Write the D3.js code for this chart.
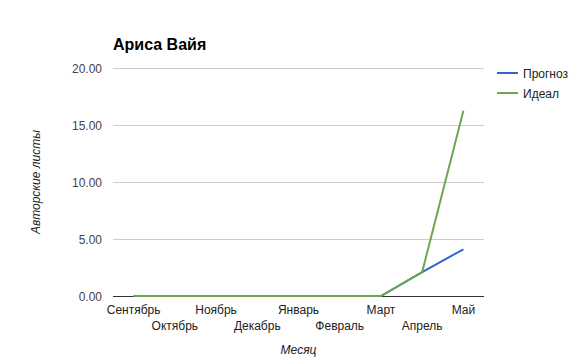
<!DOCTYPE html>
<html>
<head>
<meta charset="utf-8">
<script src="https://cdn.jsdelivr.net/npm/d3@7"></script>
<style>
  body { margin: 0; background: #fff; }
  text { font-family: "Liberation Sans", Arial, sans-serif; }
</style>
</head>
<body>
<div id="chart"></div>
<script>
// data
let months = ['Сентябрь', 'Октябрь', 'Ноябрь', 'Декабрь', 'Январь', 'Февраль', 'Март', 'Апрель', 'Май'];
let prognoz = [0, 0, 0, 0, 0, 0, 0, 2.1, 4.1];
let ideal = [0, 0, 0, 0, 0, 0, 0, 2.1, 16.25];
let yTicks = [0, 5, 10, 15, 20];
let seriesNames = ['Прогноз', 'Идеал'];
let colors = ['#3366cc', '#6aa84f'];

let svgWidth = 577;
let svgHeight = 359;
let margin = { top: 68, right: 93, bottom: 63, left: 113 };
let width = svgWidth - margin.left - margin.right;
let height = svgHeight - margin.top - margin.bottom;

let svg = d3.select('#chart')
            .append('svg')
                .attr('width', svgWidth)
                .attr('height', svgHeight);

let g = svg.append('g')
            .attr('transform', `translate(${margin.left},${margin.top})`);

let x = d3.scalePoint()
            .domain(months)
            .range([0, width])
            .padding(0.5);

let y = d3.scaleLinear()
            .domain([0, 20])
            .range([height, 0]);

// gridlines
g.selectAll('.grid')
    .data(yTicks.filter(d => d > 0))
    .enter()
        .append('line')
        .attr('x1', 0)
        .attr('x2', width)
        .attr('y1', d => y(d) + 0.5)
        .attr('y2', d => y(d) + 0.5)
        .attr('stroke', '#cccccc');

// baseline (under the lines)
g.append('line')
    .attr('x1', 0)
    .attr('x2', width)
    .attr('y1', height + 0.5)
    .attr('y2', height + 0.5)
    .attr('stroke', '#333');

// y tick labels
g.selectAll('.ylab')
    .data(yTicks)
    .enter()
        .append('text')
        .attr('x', -11)
        .attr('y', d => y(d) + 4.5)
        .attr('text-anchor', 'end')
        .attr('font-size', 12)
        .attr('fill', '#444')
        .text(d => d.toFixed(2));

// x labels in two rows
g.selectAll('.xlab')
    .data(months)
    .enter()
        .append('text')
        .attr('x', d => x(d))
        .attr('y', (d, i) => height + (i % 2 ? 34 : 18))
        .attr('text-anchor', 'middle')
        .attr('font-size', 12)
        .attr('fill', '#222')
        .text(d => d);

let line = d3.line()
            .x((d, i) => x(months[i]))
            .y(d => y(d));

[prognoz, ideal].forEach(function(s, k){
    g.append('path')
        .datum(s)
        .attr('d', line)
        .attr('fill', 'none')
        .attr('stroke', colors[k])
        .attr('stroke-width', 2);
});

// title
svg.append('text')
    .attr('x', 113)
    .attr('y', 50)
    .attr('font-size', 16)
    .attr('font-weight', 'bold')
    .attr('fill', '#000')
    .text('Ариса Вайя');

// axis titles
svg.append('text')
    .attr('transform', `translate(40,${margin.top + height / 2}) rotate(-90)`)
    .attr('text-anchor', 'middle')
    .attr('font-size', 12)
    .attr('font-style', 'italic')
    .attr('fill', '#222')
    .text('Авторские листы');

svg.append('text')
    .attr('x', margin.left + width / 2)
    .attr('y', 354)
    .attr('text-anchor', 'middle')
    .attr('font-size', 12)
    .attr('font-style', 'italic')
    .attr('fill', '#222')
    .text('Месяц');

// legend
let legend = svg.selectAll('.legend')
    .data(seriesNames)
    .enter()
        .append('g')
        .attr('transform', (d, i) => `translate(497,${73 + i * 20})`);

legend.append('line')
    .attr('x1', 0)
    .attr('x2', 21)
    .attr('stroke', (d, i) => colors[i])
    .attr('stroke-width', 2);

legend.append('text')
    .attr('x', 26)
    .attr('y', 4.5)
    .attr('font-size', 12)
    .attr('fill', '#222')
    .text(d => d);
</script>
</body>
</html>
